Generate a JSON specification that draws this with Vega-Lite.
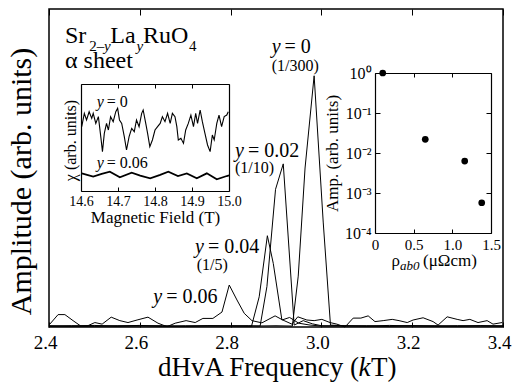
{
"$schema":"https://vega.github.io/schema/vega-lite/v6.json",
"width":454,"height":318,"autosize":"none",
"padding":{"left":49,"top":9,"right":17,"bottom":55},
"background":"white",
"config":{"font":"Liberation Serif","view":{"stroke":"black","strokeWidth":1.5},
"axis":{"grid":false,"labelFlush":false,"labelOverlap":false,"labelColor":"black","titleColor":"black","tickColor":"black","domainColor":"black","titleFontWeight":"normal","labelFont":"Liberation Serif","titleFont":"Liberation Serif","tickWidth":1,"domainWidth":1.2}},
"datasets":{
"main":[
{"s":"0","f":2.40,"a":0.004},{"s":"0","f":2.45,"a":0.002},{"s":"0","f":2.50,"a":0.004},{"s":"0","f":2.55,"a":0.003},{"s":"0","f":2.60,"a":0.005},{"s":"0","f":2.65,"a":0.002},{"s":"0","f":2.70,"a":0.004},{"s":"0","f":2.75,"a":0.003},{"s":"0","f":2.80,"a":0.004},{"s":"0","f":2.85,"a":0.003},{"s":"0","f":2.90,"a":0.004},{"s":"0","f":2.936,"a":0.003},{"s":"0","f":2.949,"a":0.16},{"s":"0","f":2.964,"a":0.50},{"s":"0","f":2.984,"a":0.79},{"s":"0","f":3.004,"a":0.33},{"s":"0","f":3.020,"a":0.006},{"s":"0","f":3.05,"a":0.004},{"s":"0","f":3.10,"a":0.003},{"s":"0","f":3.15,"a":0.005},{"s":"0","f":3.20,"a":0.003},{"s":"0","f":3.25,"a":0.004},{"s":"0","f":3.30,"a":0.002},{"s":"0","f":3.35,"a":0.004},{"s":"0","f":3.40,"a":0.003},
{"s":"0.02","f":2.40,"a":0.003},{"s":"0.02","f":2.45,"a":0.004},{"s":"0.02","f":2.50,"a":0.002},{"s":"0.02","f":2.55,"a":0.004},{"s":"0.02","f":2.60,"a":0.003},{"s":"0.02","f":2.65,"a":0.004},{"s":"0.02","f":2.70,"a":0.002},{"s":"0.02","f":2.75,"a":0.004},{"s":"0.02","f":2.80,"a":0.003},{"s":"0.02","f":2.84,"a":0.004},{"s":"0.02","f":2.865,"a":0.003},{"s":"0.02","f":2.880,"a":0.127},{"s":"0.02","f":2.899,"a":0.433},{"s":"0.02","f":2.916,"a":0.513},{"s":"0.02","f":2.940,"a":0.006},{"s":"0.02","f":2.96,"a":0.02},{"s":"0.02","f":2.98,"a":0.01},{"s":"0.02","f":3.00,"a":0.004},{"s":"0.02","f":3.05,"a":0.003},{"s":"0.02","f":3.10,"a":0.004},{"s":"0.02","f":3.15,"a":0.002},{"s":"0.02","f":3.20,"a":0.004},{"s":"0.02","f":3.25,"a":0.003},{"s":"0.02","f":3.30,"a":0.004},{"s":"0.02","f":3.35,"a":0.003},{"s":"0.02","f":3.40,"a":0.004},
{"s":"0.04","f":2.40,"a":0.002},{"s":"0.04","f":2.45,"a":0.003},{"s":"0.04","f":2.50,"a":0.005},{"s":"0.04","f":2.55,"a":0.002},{"s":"0.04","f":2.60,"a":0.004},{"s":"0.04","f":2.65,"a":0.003},{"s":"0.04","f":2.70,"a":0.002},{"s":"0.04","f":2.75,"a":0.004},{"s":"0.04","f":2.80,"a":0.003},{"s":"0.04","f":2.846,"a":0.002},{"s":"0.04","f":2.863,"a":0.095},{"s":"0.04","f":2.881,"a":0.287},{"s":"0.04","f":2.894,"a":0.20},{"s":"0.04","f":2.913,"a":0.022},{"s":"0.04","f":2.93,"a":0.03},{"s":"0.04","f":2.95,"a":0.012},{"s":"0.04","f":2.975,"a":0.006},{"s":"0.04","f":3.00,"a":0.003},{"s":"0.04","f":3.05,"a":0.004},{"s":"0.04","f":3.10,"a":0.002},{"s":"0.04","f":3.15,"a":0.003},{"s":"0.04","f":3.20,"a":0.004},{"s":"0.04","f":3.25,"a":0.002},{"s":"0.04","f":3.30,"a":0.003},{"s":"0.04","f":3.35,"a":0.004},{"s":"0.04","f":3.40,"a":0.002},
{"s":"0.06","f":2.400,"a":0.006},{"s":"0.06","f":2.420,"a":0.039},{"s":"0.06","f":2.435,"a":0.039},{"s":"0.06","f":2.453,"a":0.020},{"s":"0.06","f":2.470,"a":0.003},{"s":"0.06","f":2.484,"a":0.003},{"s":"0.06","f":2.501,"a":0.014},{"s":"0.06","f":2.517,"a":0.009},{"s":"0.06","f":2.537,"a":0.031},{"s":"0.06","f":2.556,"a":0.020},{"s":"0.06","f":2.574,"a":0.014},{"s":"0.06","f":2.594,"a":0.022},{"s":"0.06","f":2.618,"a":0.031},{"s":"0.06","f":2.640,"a":0.012},{"s":"0.06","f":2.660,"a":0.001},{"s":"0.06","f":2.678,"a":0.012},{"s":"0.06","f":2.702,"a":0.020},{"s":"0.06","f":2.722,"a":0.014},{"s":"0.06","f":2.739,"a":0.027},{"s":"0.06","f":2.761,"a":0.027},{"s":"0.06","f":2.781,"a":0.047},{"s":"0.06","f":2.797,"a":0.132},{"s":"0.06","f":2.814,"a":0.085},{"s":"0.06","f":2.830,"a":0.043},{"s":"0.06","f":2.847,"a":0.020},{"s":"0.06","f":2.869,"a":0.013},{"s":"0.06","f":2.898,"a":0.035},{"s":"0.06","f":2.915,"a":0.022},{"s":"0.06","f":2.935,"a":0.009},{"s":"0.06","f":2.948,"a":0.032},{"s":"0.06","f":2.968,"a":0.022},{"s":"0.06","f":2.984,"a":0.020},{"s":"0.06","f":3.001,"a":0.024},{"s":"0.06","f":3.019,"a":0.014},{"s":"0.06","f":3.034,"a":0.009},{"s":"0.06","f":3.052,"a":0.000},{"s":"0.06","f":3.070,"a":0.028},{"s":"0.06","f":3.087,"a":0.028},{"s":"0.06","f":3.103,"a":0.035},{"s":"0.06","f":3.118,"a":0.017},{"s":"0.06","f":3.136,"a":0.020},{"s":"0.06","f":3.156,"a":0.024},{"s":"0.06","f":3.171,"a":0.020},{"s":"0.06","f":3.189,"a":0.014},{"s":"0.06","f":3.202,"a":0.022},{"s":"0.06","f":3.224,"a":0.029},{"s":"0.06","f":3.246,"a":0.017},{"s":"0.06","f":3.257,"a":0.006},{"s":"0.06","f":3.277,"a":0.032},{"s":"0.06","f":3.299,"a":0.024},{"s":"0.06","f":3.312,"a":0.020},{"s":"0.06","f":3.327,"a":0.024},{"s":"0.06","f":3.345,"a":0.014},{"s":"0.06","f":3.365,"a":0.020},{"s":"0.06","f":3.378,"a":0.009},{"s":"0.06","f":3.398,"a":0.014}
],
"annMain":[
{"k":"formula","f":2.43524,"a":0.89403,"t":"Sr"},{"k":"formula","f":2.53502,"a":0.89403,"t":"La"},{"k":"formula","f":2.60705,"a":0.89403,"t":"RuO"},{"k":"formula","f":2.43524,"a":0.81447,"t":"α sheet"},
{"k":"sub","f":2.48855,"a":0.86700,"t":"2–"},{"k":"sub","f":2.70837,"a":0.86700,"t":"4"},
{"k":"subIt","f":2.52114,"a":0.86700,"t":"y"},{"k":"subIt","f":2.59273,"a":0.86700,"t":"y"},
{"k":"yIt","f":2.89053,"a":0.86069,"t":"y"},{"k":"yIt","f":2.80969,"a":0.53553,"t":"y"},{"k":"yIt","f":2.72159,"a":0.23365,"t":"y"},{"k":"yIt","f":2.62974,"a":0.07453,"t":"y"},
{"k":"yVal","f":2.91872,"a":0.86069,"t":"= 0"},{"k":"yVal","f":2.83833,"a":0.53553,"t":"= 0.02"},{"k":"yVal","f":2.75022,"a":0.23365,"t":"= 0.04"},{"k":"yVal","f":2.65837,"a":0.07453,"t":"= 0.06"},
{"k":"ratio","f":2.89053,"a":0.80597,"t":"(1/300)"},{"k":"ratio","f":2.80969,"a":0.48333,"t":"(1/10)"},{"k":"ratio","f":2.72533,"a":0.17925,"t":"(1/5)"},
{"k":"xTitle","f":2.64009,"a":-0.15409,"t":"dHvA Frequency  ("},{"k":"xTitleIt","f":3.08172,"a":-0.15409,"t":"k"},{"k":"xTitle","f":3.10925,"a":-0.15409,"t":"T)"}
],
"ins1":[
{"s":"0","B":14.602,"v":0.601},{"s":"0","B":14.609,"v":0.726},{"s":"0","B":14.615,"v":0.664},{"s":"0","B":14.622,"v":0.741},{"s":"0","B":14.629,"v":0.679},{"s":"0","B":14.633,"v":0.726},{"s":"0","B":14.640,"v":0.632},{"s":"0","B":14.647,"v":0.695},{"s":"0","B":14.654,"v":0.492},{"s":"0","B":14.658,"v":0.368},{"s":"0","B":14.663,"v":0.539},{"s":"0","B":14.669,"v":0.632},{"s":"0","B":14.674,"v":0.570},{"s":"0","B":14.680,"v":0.695},{"s":"0","B":14.687,"v":0.648},{"s":"0","B":14.694,"v":0.741},{"s":"0","B":14.699,"v":0.773},{"s":"0","B":14.704,"v":0.664},{"s":"0","B":14.710,"v":0.632},{"s":"0","B":14.717,"v":0.508},{"s":"0","B":14.723,"v":0.383},{"s":"0","B":14.730,"v":0.508},{"s":"0","B":14.737,"v":0.586},{"s":"0","B":14.744,"v":0.555},{"s":"0","B":14.750,"v":0.664},{"s":"0","B":14.757,"v":0.601},{"s":"0","B":14.764,"v":0.726},{"s":"0","B":14.768,"v":0.757},{"s":"0","B":14.775,"v":0.632},{"s":"0","B":14.780,"v":0.539},{"s":"0","B":14.786,"v":0.414},{"s":"0","B":14.793,"v":0.477},{"s":"0","B":14.800,"v":0.570},{"s":"0","B":14.807,"v":0.601},{"s":"0","B":14.814,"v":0.632},{"s":"0","B":14.820,"v":0.695},{"s":"0","B":14.827,"v":0.648},{"s":"0","B":14.834,"v":0.726},{"s":"0","B":14.841,"v":0.632},{"s":"0","B":14.847,"v":0.726},{"s":"0","B":14.854,"v":0.695},{"s":"0","B":14.859,"v":0.601},{"s":"0","B":14.863,"v":0.477},{"s":"0","B":14.870,"v":0.492},{"s":"0","B":14.877,"v":0.445},{"s":"0","B":14.883,"v":0.570},{"s":"0","B":14.890,"v":0.632},{"s":"0","B":14.897,"v":0.710},{"s":"0","B":14.904,"v":0.601},{"s":"0","B":14.910,"v":0.726},{"s":"0","B":14.915,"v":0.632},{"s":"0","B":14.922,"v":0.757},{"s":"0","B":14.928,"v":0.648},{"s":"0","B":14.935,"v":0.539},{"s":"0","B":14.942,"v":0.430},{"s":"0","B":14.949,"v":0.368},{"s":"0","B":14.955,"v":0.523},{"s":"0","B":14.960,"v":0.477},{"s":"0","B":14.967,"v":0.632},{"s":"0","B":14.973,"v":0.710},{"s":"0","B":14.980,"v":0.601},{"s":"0","B":14.987,"v":0.695},{"s":"0","B":14.994,"v":0.710},{"s":"0","B":14.998,"v":0.741},
{"s":"0.06","B":14.602,"v":0.165},{"s":"0.06","B":14.633,"v":0.134},{"s":"0.06","B":14.656,"v":0.159},{"s":"0.06","B":14.678,"v":0.180},{"s":"0.06","B":14.705,"v":0.128},{"s":"0.06","B":14.737,"v":0.171},{"s":"0.06","B":14.760,"v":0.143},{"s":"0.06","B":14.787,"v":0.119},{"s":"0.06","B":14.814,"v":0.150},{"s":"0.06","B":14.836,"v":0.180},{"s":"0.06","B":14.862,"v":0.140},{"s":"0.06","B":14.886,"v":0.165},{"s":"0.06","B":14.913,"v":0.119},{"s":"0.06","B":14.940,"v":0.165},{"s":"0.06","B":14.967,"v":0.109},{"s":"0.06","B":14.994,"v":0.140},{"s":"0.06","B":15.0,"v":0.145}
],
"ann1":[
{"k":"it","B":14.6424,"v":0.7882,"t":"y"},{"k":"rm","B":14.6695,"v":0.7882,"t":"= 0"},
{"k":"it","B":14.6424,"v":0.2118,"t":"y"},{"k":"rm","B":14.6695,"v":0.2118,"t":"= 0.06"}
],
"ins2":[
{"rho":0.10,"amp":1.0},{"rho":0.65,"amp":0.022},{"rho":1.16,"amp":0.0063},{"rho":1.38,"amp":0.00057}
],
"ann2":[
{"k":"rm","rho":0.2134,"amp":0.00001496,"t":"ρ"},{"k":"it","rho":0.3233,"amp":0.00001189,"t":"ab0"},{"k":"rm","rho":0.6208,"amp":0.00001496,"t":"(μΩcm)"}
]
},
"layer":[
{"data":{"name":"main"},
 "mark":{"type":"line","color":"black","strokeWidth":1},
 "encoding":{
  "x":{"field":"f","type":"quantitative","scale":{"domain":[2.4,3.4],"range":[0,454],"nice":false,"zero":false},
   "axis":{"orient":"bottom","values":[2.4,2.6,2.8,3.0,3.2,3.4],"format":".1f","domain":false,"tickSize":-5,"labelPadding":11,"labelOffset":-4,"labelFont":"Liberation Serif","labelFontSize":19,"title":null}},
  "y":{"field":"a","type":"quantitative","scale":{"domain":[0,1],"range":[318,0],"nice":false,"zero":false},
   "axis":{"orient":"left","domain":false,"ticks":false,"labels":false,"title":"Amplitude (arb. units)","titleFont":"Liberation Serif","titleFontSize":30,"titleX":-19,"titleY":172,"titleBaseline":"alphabetic","titleAngle":-90,"titleAlign":"center"}},
  "detail":{"field":"s","type":"nominal"}
 }},
{"data":{"name":"annMain"},
 "encoding":{
  "x":{"field":"f","type":"quantitative","scale":{"domain":[2.4,3.4],"range":[0,454],"nice":false,"zero":false},
   "axis":{"orient":"top","values":[2.4,2.6,2.8,3.0,3.2,3.4],"labels":false,"domain":false,"tickSize":-6,"title":null}},
  "y":{"field":"a","type":"quantitative","scale":{"domain":[0,1],"range":[318,0],"nice":false,"zero":false},"axis":null},
  "text":{"field":"t","type":"nominal"}
 },
 "layer":[
  {"transform":[{"filter":"datum.k=='formula'"}],"mark":{"type":"text","font":"Liberation Serif","fontSize":24,"align":"left","baseline":"alphabetic","color":"black"}},
  {"transform":[{"filter":"datum.k=='sub'"}],"mark":{"type":"text","font":"Liberation Serif","fontSize":15,"align":"left","baseline":"alphabetic","color":"black"}},
  {"transform":[{"filter":"datum.k=='subIt'"}],"mark":{"type":"text","font":"Liberation Serif","fontSize":15,"fontStyle":"italic","align":"left","baseline":"alphabetic","color":"black"}},
  {"transform":[{"filter":"datum.k=='yIt'"}],"mark":{"type":"text","font":"Liberation Serif","fontSize":20,"fontStyle":"italic","align":"left","baseline":"alphabetic","color":"black"}},
  {"transform":[{"filter":"datum.k=='yVal'"}],"mark":{"type":"text","font":"Liberation Serif","fontSize":20,"align":"left","baseline":"alphabetic","color":"black"}},
  {"transform":[{"filter":"datum.k=='ratio'"}],"mark":{"type":"text","font":"Liberation Serif","fontSize":16,"align":"left","baseline":"alphabetic","color":"black"}},
  {"transform":[{"filter":"datum.k=='xTitle'"}],"mark":{"type":"text","font":"Liberation Serif","fontSize":27,"align":"left","baseline":"alphabetic","color":"black"}},
  {"transform":[{"filter":"datum.k=='xTitleIt'"}],"mark":{"type":"text","font":"Liberation Serif","fontSize":27,"fontStyle":"italic","align":"left","baseline":"alphabetic","color":"black"}}
 ]},
{"data":{"name":"ins1"},
 "mark":{"type":"line","color":"black"},
 "encoding":{
  "x":{"field":"B","type":"quantitative","scale":{"domain":[14.6,15.0],"range":[32,180],"nice":false,"zero":false},
   "axis":{"orient":"bottom","offset":-136,"values":[14.6,14.7,14.8,14.9,15.0],"format":".1f","domain":true,"tickSize":-4,"labelPadding":7,"labelFont":"Liberation Serif","labelFontSize":14,"title":"Magnetic Field  (T)","titleFont":"Liberation Serif","titleFontSize":17,"titleY":31,"titleBaseline":"alphabetic"}},
  "y":{"field":"v","type":"quantitative","scale":{"domain":[0,1],"range":[182,75],"nice":false,"zero":false},
   "axis":{"orient":"left","offset":-32,"domain":true,"ticks":false,"labels":false,"title":"χ (arb. units)","titleFont":"Liberation Serif","titleFontSize":16,"titleX":-6,"titleY":131,"titleBaseline":"alphabetic","titleAngle":-90,"titleAlign":"center"}},
  "detail":{"field":"s","type":"nominal"},
  "strokeWidth":{"field":"s","type":"nominal","scale":{"domain":["0","0.06"],"range":[1.1,1.8]},"legend":null}
 }},
{"data":{"name":"ann1"},
 "encoding":{
  "x":{"field":"B","type":"quantitative","scale":{"domain":[14.6,15.0],"range":[32,180],"nice":false,"zero":false},
   "axis":{"orient":"top","offset":-75,"values":[14.6,14.7,14.8,14.9,15.0],"labels":false,"domain":true,"tickSize":-4,"title":null}},
  "y":{"field":"v","type":"quantitative","scale":{"domain":[0,1],"range":[182,75],"nice":false,"zero":false},
   "axis":{"orient":"right","offset":-274,"domain":true,"ticks":false,"labels":false,"title":null}},
  "text":{"field":"t","type":"nominal"}
 },
 "layer":[
  {"transform":[{"filter":"datum.k=='it'"}],"mark":{"type":"text","font":"Liberation Serif","fontSize":16,"fontStyle":"italic","align":"left","baseline":"alphabetic","color":"black"}},
  {"transform":[{"filter":"datum.k=='rm'"}],"mark":{"type":"text","font":"Liberation Serif","fontSize":16,"align":"left","baseline":"alphabetic","color":"black"}}
 ]},
{"data":{"name":"ins2"},
 "mark":{"type":"point","filled":true,"color":"black","size":45,"opacity":1},
 "encoding":{
  "x":{"field":"rho","type":"quantitative","scale":{"domain":[0,1.5],"range":[326,442],"nice":false,"zero":false},
   "axis":{"orient":"bottom","offset":-94,"values":[0,0.5,1,1.5],"labelExpr":"datum.value == 0 ? '0' : format(datum.value, '.1f')","domain":true,"tickSize":-4,"labelPadding":8,"labelFont":"Liberation Serif","labelFontSize":15,"title":null}},
  "y":{"field":"amp","type":"quantitative","scale":{"type":"log","domain":[0.0001,1],"range":[224,64],"nice":false},
   "axis":{"orient":"left","offset":-326,"values":[0.0001,0.001,0.01,0.1,1],"labelExpr":"'10' + ['⁰','⁻¹','⁻²','⁻³','⁻⁴'][round(-log(datum.value)/LN10)]","domain":true,"tickSize":-5,"labelPadding":9,"labelFont":"Liberation Serif","labelFontSize":16,"title":"Amp. (arb. units)","titleFont":"Liberation Serif","titleFontSize":17,"titleX":-38,"titleY":144,"titleBaseline":"alphabetic","titleAngle":-90,"titleAlign":"center"}}
 }},
{"data":{"name":"ann2"},
 "encoding":{
  "x":{"field":"rho","type":"quantitative","scale":{"domain":[0,1.5],"range":[326,442],"nice":false,"zero":false},
   "axis":{"orient":"top","offset":-64,"values":[0,0.5,1,1.5],"labels":false,"domain":true,"tickSize":-4,"title":null}},
  "y":{"field":"amp","type":"quantitative","scale":{"type":"log","domain":[0.0001,1],"range":[224,64],"nice":false},
   "axis":{"orient":"right","offset":-12,"values":[0.0001,0.001,0.01,0.1,1],"labels":false,"domain":true,"tickSize":-5,"title":null}},
  "text":{"field":"t","type":"nominal"}
 },
 "layer":[
  {"transform":[{"filter":"datum.k=='it'"}],"mark":{"type":"text","font":"Liberation Serif","fontSize":13,"fontStyle":"italic","align":"left","baseline":"alphabetic","color":"black"}},
  {"transform":[{"filter":"datum.k=='rm'"}],"mark":{"type":"text","font":"Liberation Serif","fontSize":17,"align":"left","baseline":"alphabetic","color":"black"}}
 ]}
],
"resolve":{"scale":{"x":"independent","y":"independent"},"axis":{"x":"independent","y":"independent"}}
}
